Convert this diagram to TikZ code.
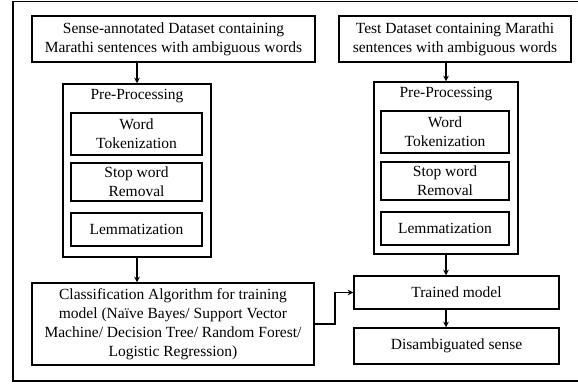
\documentclass[tikz,border=0pt]{standalone}
\usepackage{fontspec}
\setmainfont{Liberation Serif}
\usetikzlibrary{arrows.meta}
\begin{document}
\begin{tikzpicture}[x=1pt,y=-1pt,
  box/.style={draw,line width=1.5pt,align=center,inner sep=0pt,
    font=\fontsize{15.5}{19}\selectfont},
  outerbox/.style={draw,line width=1.5pt,inner sep=0pt},
  conn/.style={line width=1.5pt,-{Stealth[length=5.5pt,width=5.5pt]}}]
\useasboundingbox (0,0) rectangle (578,385);
\draw[line width=1.5pt] (580,1.5) -- (13,1.5) -- (13,381) -- (580,381);
% left column
\node[box,minimum width=283pt,minimum height=46pt] (sense) at (173.5,39)
  {Sense-annotated Dataset containing\\Marathi sentences with ambiguous words};
\node[outerbox,minimum width=148pt,minimum height=173pt] (ppl) at (137,170.5) {};
\node[font=\fontsize{15.5}{19}\selectfont,anchor=center] (ppltitle) at (137,96) {Pre-Processing};
\node[box,minimum width=131pt,minimum height=42pt] (wtl) at (136.5,134) {Word\\Tokenization};
\node[box,minimum width=131pt,minimum height=38pt] (swl) at (136.5,182) {Stop word\\Removal};
\node[box,minimum width=131pt,minimum height=33pt] (leml) at (136.5,229.5) {Lemmatization};
\node[box,minimum width=282pt,minimum height=82pt] (class) at (173,324)
  {Classification Algorithm for training\\model (Naïve Bayes/ Support Vector\\Machine/ Decision Tree/ Random Forest/\\Logistic Regression)};
% right column
\node[box,minimum width=232pt,minimum height=46pt] (test) at (455,39)
  {Test Dataset containing Marathi\\sentences with ambiguous words};
\node[outerbox,minimum width=144pt,minimum height=172pt] (ppr) at (446,168) {};
\node[font=\fontsize{15.5}{19}\selectfont,anchor=center] (pprtitle) at (446,94) {Pre-Processing};
\node[box,minimum width=128pt,minimum height=42pt] (wtr) at (445,132) {Word\\Tokenization};
\node[box,minimum width=128pt,minimum height=38pt] (swr) at (445,181) {Stop word\\Removal};
\node[box,minimum width=128pt,minimum height=33pt] (lemr) at (445,228.5) {Lemmatization};
\node[box,minimum width=205pt,minimum height=33pt] (trained) at (456.5,292.5) {Trained model};
\node[box,minimum width=205pt,minimum height=36pt] (dis) at (456.5,346) {Disambiguated sense};
% connectors
\draw[conn] (ppl.north |- sense.south) -- (ppl.north);
\draw[conn] (ppl.south) -- (ppl.south |- class.north);
\draw[conn] (ppr.north |- test.south) -- (ppr.north);
\draw[conn] (ppr.south) -- (ppr.south |- trained.north);
\draw[conn] (ppr.south |- trained.south) -- (ppr.south |- dis.north);
\draw[conn] (class.east) -- ++(20,0) |- (trained.west);
\end{tikzpicture}
\end{document}
